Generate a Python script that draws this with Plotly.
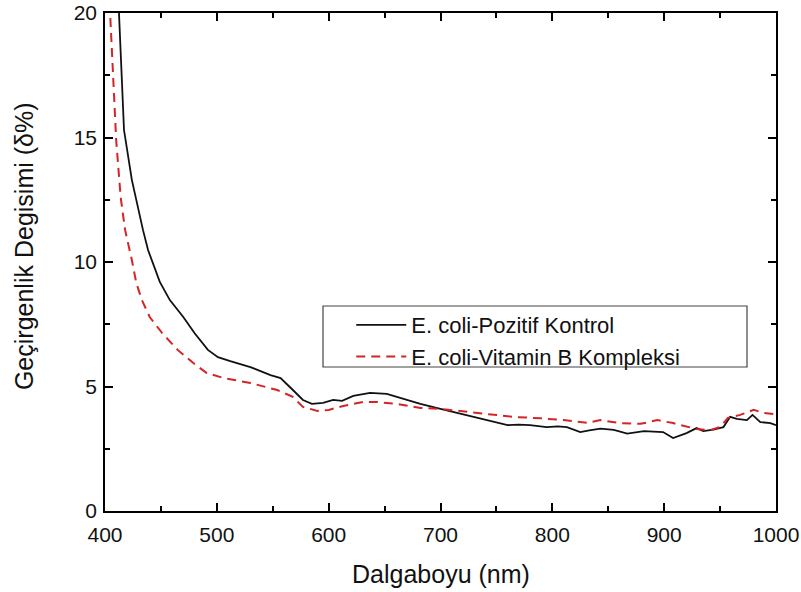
import plotly.graph_objects as go

# E. coli-Pozitif Kontrol (black solid)
wl_control = [411, 412.5, 417, 424, 434, 438.5, 449, 458, 470, 480, 492, 501, 512, 530, 548, 557,
              568, 577, 585, 595, 604, 612, 622, 637, 652, 666, 682, 700, 715, 735, 744, 760,
              770, 780, 795, 805, 813, 825, 833, 843, 855, 867, 882, 899, 908, 920, 929, 935,
              944, 953, 959, 965, 974, 979, 986, 995, 1000]
val_control = [21.0, 20.0, 15.3, 13.3, 11.28, 10.48, 9.2, 8.47, 7.79, 7.15, 6.47, 6.18, 6.02, 5.78,
               5.46, 5.34, 4.86, 4.46, 4.3, 4.34, 4.46, 4.42, 4.62, 4.74, 4.7, 4.5, 4.3, 4.1,
               3.94, 3.74, 3.65, 3.45, 3.47, 3.45, 3.37, 3.4, 3.37, 3.17, 3.24, 3.31, 3.26, 3.11,
               3.21, 3.17, 2.93, 3.13, 3.33, 3.21, 3.27, 3.37, 3.78, 3.7, 3.65, 3.86, 3.57, 3.53,
               3.45]

# E. coli-Vitamin B Kompleksi (red dashed)
wl_vitb = [403.5, 404.5, 410, 414, 418, 424, 428, 433, 440, 451, 465, 479, 491, 506, 530, 554,
           568, 577, 590, 600, 613, 631, 643, 661, 682, 700, 715, 735, 765, 790, 810, 831, 843,
           861, 879, 894, 908, 929, 941, 950, 957, 968, 980, 989, 1000]
val_vitb = [21.0, 20.0, 14.9, 12.6, 11.28, 10.08, 9.16, 8.47, 7.79, 7.15, 6.47, 5.94, 5.54, 5.34,
            5.14, 4.86, 4.58, 4.18, 4.02, 4.06, 4.22, 4.38, 4.38, 4.3, 4.14, 4.1, 4.02, 3.94,
            3.78, 3.72, 3.65, 3.54, 3.65, 3.53, 3.5, 3.65, 3.53, 3.29, 3.25, 3.37, 3.74, 3.86,
            4.06, 3.94, 3.88]

x_ticks = [400, 500, 600, 700, 800, 900, 1000]
y_ticks = [0, 5, 10, 15, 20]

FONT = "Liberation Sans, Arial, sans-serif"

fig = go.Figure()
fig.add_trace(go.Scatter(x=wl_control, y=val_control, mode="lines",
                         name="E. coli-Pozitif Kontrol",
                         line=dict(color="#111111", width=1.8)))
fig.add_trace(go.Scatter(x=wl_vitb, y=val_vitb, mode="lines",
                         name="E. coli-Vitamin B Kompleksi",
                         line=dict(color="#d42424", width=2, dash="9px,6px")))

axis_common = dict(showgrid=False, zeroline=False, showline=True, linecolor="black",
                   linewidth=1.5, mirror="ticks", ticks="inside", ticklen=8, tickwidth=1.5,
                   tickcolor="black", automargin=False, ticklabeloverflow="allow",
                   tickfont=dict(family=FONT, size=21, color="#111"))

fig.update_xaxes(range=[400, 1000], tickvals=x_ticks,
                 minor=dict(dtick=50, ticks="inside", ticklen=5, tickwidth=1.5, tickcolor="black"),
                 ticklabelstandoff=4, **axis_common)
fig.update_yaxes(range=[0, 20], tickvals=y_ticks,
                 minor=dict(dtick=2.5, ticks="inside", ticklen=5, tickwidth=1.5, tickcolor="black"),
                 ticklabelstandoff=2, **axis_common)

fig.add_annotation(text="Dalgaboyu (nm)", xref="paper", yref="paper", x=0.5, y=-0.1265,
                   xanchor="center", yanchor="middle", showarrow=False,
                   font=dict(family=FONT, size=25, color="#111"))
fig.add_annotation(text="Geçirgenlik Degisimi (δ%)", xref="paper", yref="paper", x=-0.1207, y=0.532,
                   xanchor="center", yanchor="middle", showarrow=False, textangle=-90,
                   font=dict(family=FONT, size=25, color="#111"))

fig.add_shape(type="rect", xref="paper", yref="paper", x0=0.3249, x1=0.9568, y0=0.2892, y1=0.4116,
              line=dict(color="#444", width=1.2), fillcolor="white", layer="below")

fig.update_layout(
    width=801, height=592,
    margin=dict(l=105, r=25, t=13, b=81),
    paper_bgcolor="white", plot_bgcolor="white",
    showlegend=True,
    legend=dict(x=0.367, y=0.4156, xanchor="left", yanchor="top", bgcolor="rgba(0,0,0,0)",
                borderwidth=0, itemwidth=50, font=dict(family=FONT, size=22, color="#111"),
                tracegroupgap=0),
)

# remove the default 8px page margin so the figure fills the window exactly
fig.write_html("out.html", config={"displayModeBar": False},
               post_script="document.body.style.margin='0';document.body.style.overflow='hidden';")
